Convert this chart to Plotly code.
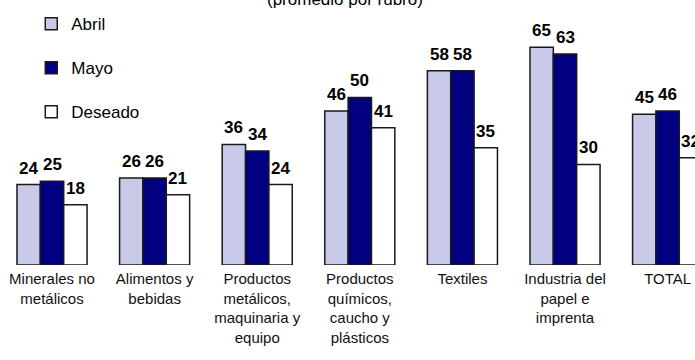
import plotly.graph_objects as go

# Categories (industry branches) and average values per branch
categorias = [
    "Minerales no<br>metálicos",
    "Alimentos y<br>bebidas",
    "Productos<br>metálicos,<br>maquinaria y<br>equipo",
    "Productos<br>químicos,<br>caucho y<br>plásticos",
    "Textiles",
    "Industria del<br>papel e<br>imprenta",
    "TOTAL",
]
abril = [24, 26, 36, 46, 58, 65, 45]
mayo = [25, 26, 34, 50, 58, 63, 46]
deseado = [18, 21, 24, 41, 35, 30, 32]

FONT = "Arial, Liberation Sans, sans-serif"
OUTLINE = dict(color="#1a1a1a", width=1.5)
BARGAP = 0.317
BAR_W = (1 - BARGAP) / 3

fig = go.Figure()
series = [
    ("Abril", abril, dict(color="#c4c4e6",
                          pattern=dict(shape=".", fgcolor="#a4a4d4", bgcolor="#d4d4ee",
                                       size=2, solidity=0.5))),
    ("Mayo", mayo, dict(color="#000080")),
    ("Deseado", deseado, dict(color="#ffffff")),
]
for nombre, valores, estilo in series:
    fig.add_trace(go.Bar(
        name=nombre, x=list(range(len(categorias))), y=valores,
        marker=dict(line=OUTLINE, **estilo),
        legendgroup=nombre,
    ))

# Bold value labels above each bar
for k, (nombre, valores, _) in enumerate(series):
    offset = (k - 1) * BAR_W
    for i, v in enumerate(valores):
        fig.add_annotation(
            x=i + offset, y=v, xref="x", yref="y",
            text=f"<b>{v}</b>", showarrow=False,
            yanchor="bottom", xanchor="center", yshift=5,
            font=dict(family=FONT, size=17, color="#000000"),
        )

# Subtitle at the top edge
fig.add_annotation(
    x=345 / 695, xref="paper", y=1, yref="paper", xanchor="center", yanchor="bottom",
    text="(promedio por rubro)", showarrow=False, yshift=-11,
    font=dict(family=FONT, size=17, color="#000000"),
)

fig.update_layout(
    width=695, height=360,
    margin=dict(l=0, r=0, t=0, b=95),
    paper_bgcolor="white", plot_bgcolor="white",
    barmode="group", bargap=BARGAP, bargroupgap=0,
    font=dict(family=FONT, color="#000000"),
    legend=dict(
        x=0.045, y=0.977, xanchor="left", yanchor="top",
        font=dict(family=FONT, size=17, color="#000000"),
        tracegroupgap=19, itemwidth=30, bgcolor="rgba(0,0,0,0)",
    ),
    showlegend=True,
)
fig.update_xaxes(
    tickmode="array", tickvals=list(range(len(categorias))), ticktext=categorias,
    range=[-0.507, 6.267], showgrid=False, showline=False, zeroline=False,
    ticks="", ticklabelstandoff=3,
    tickfont=dict(family=FONT, size=15, color="#111111"),
)
fig.update_yaxes(
    range=[0, 79.1], visible=False, showgrid=False, zeroline=False,
)

fig.write_html("out.html")
